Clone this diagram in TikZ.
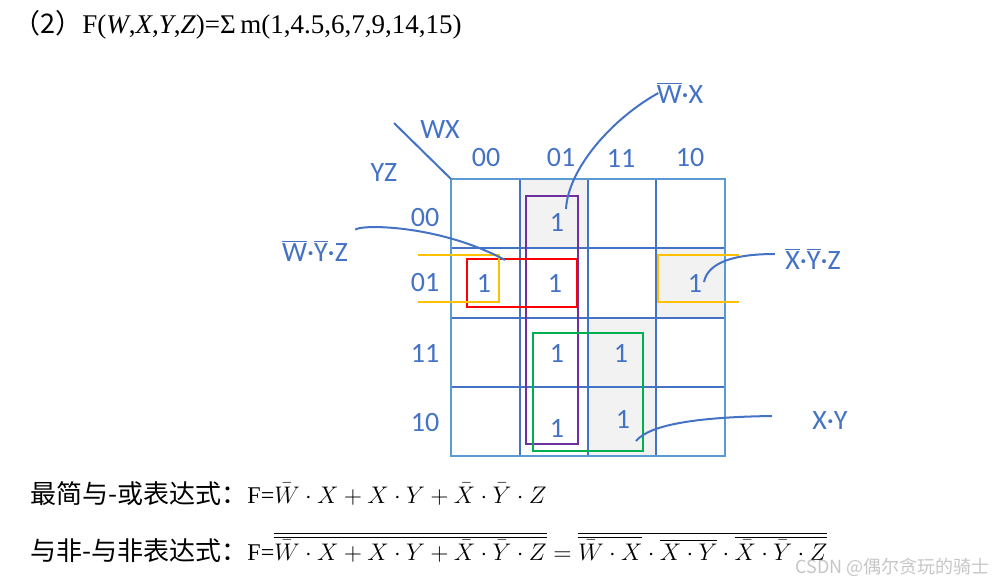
\documentclass[tikz,border=0pt]{standalone}
\usepackage{fontspec}
\setmainfont{Liberation Serif}
\newfontfamily\cjkfont{Noto Sans CJK SC}
\newfontfamily\labelfont{Carlito}
\usetikzlibrary{positioning}
\definecolor{kblue}{HTML}{4472C4}
\definecolor{kedge}{HTML}{5B9BD5}
\definecolor{kgray}{HTML}{F2F2F2}
\definecolor{kpurple}{HTML}{7030A0}
\definecolor{korange}{HTML}{FFC000}
\definecolor{kgreen}{HTML}{00B050}
\definecolor{kred}{HTML}{FF0000}
\newcommand{\nb}[1]{$\overline{\mbox{#1}}$}
\newcommand{\cjklead}[1]{{\cjkfont\fontsize{13}{15}\selectfont #1}}
\tikzset{
  kmtext/.style={font=\labelfont\fontsize{14}{16}\selectfont,text=kblue,inner sep=0pt},
  kmline/.style={kblue,line width=1pt},
  kloop/.style={line width=1.2pt},
  callout/.style={kblue,line width=1pt},
  formula/.style={anchor=base west,inner sep=0pt,font=\fontsize{12}{14}\selectfont}
}

\begin{document}
\begin{tikzpicture}[x=0.5pt,y=-0.5pt]
  \useasboundingbox (0,0) rectangle (995,585);
  % --- title -------------------------------------------------------------
  \node[anchor=base west,inner sep=0pt,font=\fontsize{13.5}{16}\selectfont] (title) at (13,33)
    {{\cjkfont （2）}F(\textit{W},\textit{X},\textit{Y},\textit{Z})=Σ\,m(1,4.5,6,7,9,14,15)};

  % --- K-map: shaded cells, grid ----------------------------------------
  \fill[kgray] (520,179) rectangle (588,248);
  \fill[kgray] (656,248) rectangle (725,318);
  \fill[kgray] (588,318) rectangle (656,456);
  \foreach \x in {520,588,656}
    \draw[kmline] (\x,179) -- (\x,456);
  \foreach \y in {248,318,387}
    \draw[kmline] (451,\y) -- (725,\y);
  \draw[kedge,line width=1pt] (451,179) rectangle (725,456);
  \draw[kmline] (394,123) -- (451,179);

  % --- headers ------------------------------------------------------------
  \node[kmtext] (wx) at (440,130) {WX};
  \node[kmtext] (yz) at (384,173) {YZ};
  \foreach \t/\x in {00/486,01/561,11/621,10/690}
    \node[kmtext] (col\t) at (\x,158) {\t};
  \foreach \t/\y in {00/218,01/283,11/353,10/422}
    \node[kmtext] (row\t) at (425,\y) {\t};

  % --- minterms -----------------------------------------------------------
  \foreach \n/\x/\y in {a/557/222,b/484/283,c/555/283,d/695/283,
                        e/557/353,f/621/353,g/557/428,h/623/419}
    \node[kmtext] (one\n) at (\x,\y) {1};

  % --- loops --------------------------------------------------------------
  \draw[kloop,kpurple] (526,196) rectangle (578,444);
  \draw[kloop,kred] (467,259) rectangle (577,307);
  \draw[kloop,korange] (418,255) -- (499,255) -- (499,302) -- (418,302);
  \draw[kloop,korange] (739,255) -- (658,255) -- (658,302) -- (739,302);
  \draw[kloop,kgreen] (533,333) rectangle (643,451);

  % --- callouts -----------------------------------------------------------
  \node[kmtext] (lwx) at (680,93) {\nb{W}·X};
  \node[kmtext] (lwyz) at (315,251) {\nb{W}·\nb{Y}·Z};
  \node[kmtext] (lxyz) at (813,259) {\nb{X}·\nb{Y}·Z};
  \node[kmtext] (lxy) at (830,421) {X·Y};
  \coordinate (pwx) at (566,209);
  \coordinate (pwyz) at (505,260);
  \coordinate (pxyz) at (704,282);
  \coordinate (pxy) at (636,441);
  \draw[callout] (pwx) .. controls (568,170) and (610,120) .. ([xshift=1pt]lwx.west);
  \draw[callout] ([shift={(7,-10)}]lwyz.north east) .. controls (362,224) and (440,225) .. (pwyz);
  \draw[callout] (pxyz) .. controls (708,262) and (735,254) .. ([shift={(-10,-5)}]lxyz.west);
  \draw[callout] (pxy) .. controls (650,424) and (700,417) .. ([shift={(-40,-5)}]lxy.west);

  % --- expressions --------------------------------------------------------
  \node[formula] (simp) at (30,503)
    {\cjklead{最简与-或表达式：}F=$\bar{W}\cdot X+X\cdot Y+\bar{X}\cdot\bar{Y}\cdot Z$};
  \node[formula] (nand) at (30,560)
    {\cjklead{与非-与非表达式：}F=$\overline{\overline{\bar{W}\cdot X+X\cdot Y+\bar{X}\cdot\bar{Y}\cdot Z}}
     =\overline{\overline{\bar{W}\cdot X}\cdot\overline{X\cdot Y}\cdot\overline{\bar{X}\cdot\bar{Y}\cdot Z}}$};
  \node[anchor=base east,inner sep=0pt,text=gray!45,font=\cjkfont\fontsize{9}{10}\selectfont] (mark)
    at (990,573) {CSDN @偶尔贪玩的骑士};
\end{tikzpicture}
\end{document}
